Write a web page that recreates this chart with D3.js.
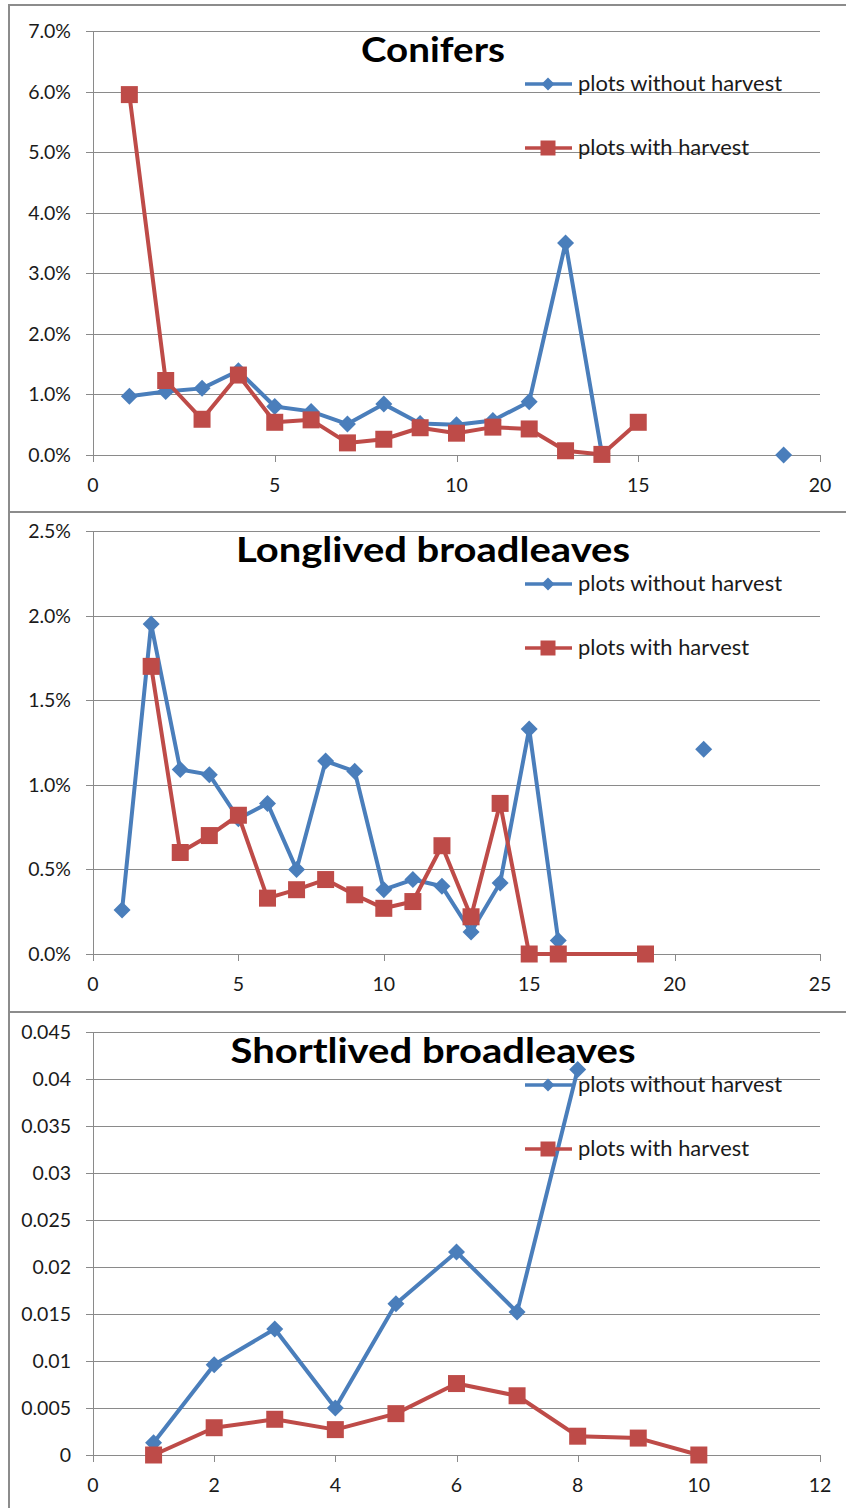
<!DOCTYPE html>
<html>
<head>
<meta charset="utf-8">
<title>Conifers / broadleaves</title>
<style>
  body {margin: 0; background: white;}
  svg {display: block;}
  text {font-family: Lato, "Open Sans", sans-serif;}
</style>
</head>
<body>
<div id="chart"></div>
<script src="https://d3js.org/d3.v7.min.js"></script>
<script>
// ---- data (null = gap in the line) ----
var titles = ["Conifers", "Longlived broadleaves", "Shortlived broadleaves"];
var seriesNames = ["plots without harvest", "plots with harvest"];

var conifersWithoutX = [1, 2, 3, 4, 5, 6, 7, 8, 9, 10, 11, 12, 13, 14, null, 19];
var conifersWithoutY = [0.0097, 0.0105, 0.0110, 0.0139, 0.0080, 0.0072, 0.0051, 0.0084, 0.0052, 0.0050, 0.0057, 0.0088, 0.0350, 0.0002, null, 0.0];
var conifersWithX = [1, 2, 3, 4, 5, 6, 7, 8, 9, 10, 11, 12, 13, 14, 15];
var conifersWithY = [0.0595, 0.0123, 0.0059, 0.0132, 0.0054, 0.0058, 0.0020, 0.0026, 0.0045, 0.0036, 0.0046, 0.0043, 0.0007, 0.0001, 0.0054];

var longWithoutX = [1, 2, 3, 4, 5, 6, 7, 8, 9, 10, 11, 12, 13, 14, 15, 16, null, 21];
var longWithoutY = [0.0026, 0.0195, 0.0109, 0.0106, 0.0080, 0.0089, 0.0050, 0.0114, 0.0108, 0.0038, 0.0044, 0.0040, 0.0013, 0.0042, 0.0133, 0.0008, null, 0.0121];
var longWithX = [2, 3, 4, 5, 6, 7, 8, 9, 10, 11, 12, 13, 14, 15, 16, 19];
var longWithY = [0.0170, 0.0060, 0.0070, 0.0082, 0.0033, 0.0038, 0.0044, 0.0035, 0.0027, 0.0031, 0.0064, 0.0022, 0.0089, 0.0, 0.0, 0.0];

var shortWithoutX = [1, 2, 3, 4, 5, 6, 7, 8];
var shortWithoutY = [0.0013, 0.0096, 0.0134, 0.0050, 0.0161, 0.0216, 0.0152, 0.0410];
var shortWithX = [1, 2, 3, 4, 5, 6, 7, 8, 9, 10];
var shortWithY = [0.0, 0.0029, 0.0038, 0.0027, 0.0044, 0.0076, 0.0063, 0.0020, 0.0018, 0.0];

var xMax = [20, 25, 12];
var xTicks = [[0, 5, 10, 15, 20], [0, 5, 10, 15, 20, 25], [0, 2, 4, 6, 8, 10, 12]];
var yTicks = [
  [0, 0.01, 0.02, 0.03, 0.04, 0.05, 0.06, 0.07],
  [0, 0.005, 0.01, 0.015, 0.02, 0.025],
  [0, 0.005, 0.01, 0.015, 0.02, 0.025, 0.03, 0.035, 0.04, 0.045]
];
var yTickLabels = [
  ["0.0%", "1.0%", "2.0%", "3.0%", "4.0%", "5.0%", "6.0%", "7.0%"],
  ["0.0%", "0.5%", "1.0%", "1.5%", "2.0%", "2.5%"],
  ["0", "0.005", "0.01", "0.015", "0.02", "0.025", "0.03", "0.035", "0.04", "0.045"]
];

var panels = [
  {without: [conifersWithoutX, conifersWithoutY], with: [conifersWithX, conifersWithY]},
  {without: [longWithoutX, longWithoutY], with: [longWithX, longWithY]},
  {without: [shortWithoutX, shortWithoutY], with: [shortWithX, shortWithY]}
];

// ---- layout ----
var W = 846, H = 1508;
var blue = "#4a7ebb", red = "#be4b48", grid = "#8a8a8a";
var panelTop = [5, 512, 1012];
var plotTop = [31, 531, 1032];
var plotBottom = [455, 954, 1455];
var left = 93, right = 820;
var titleWidth = [144, 394, 405];
var legendWidth = [204, 171];

var svg = d3.select("#chart").append("svg")
  .attr("width", W).attr("height", H);

function diamond(r) { return "M0," + (-r) + "L" + r + ",0L0," + r + "L" + (-r) + ",0Z"; }
function square(r) { return "M" + (-r) + "," + (-r) + "H" + r + "V" + r + "H" + (-r) + "Z"; }

panels.forEach(function(p, i) {
  var g = svg.append("g");
  var pb = i < 2 ? panelTop[i + 1] : H + 5;

  // frame
  g.append("rect")
    .attr("x", 9).attr("y", panelTop[i])
    .attr("width", W + 10).attr("height", pb - panelTop[i])
    .attr("fill", "white").attr("stroke", "#8c8c8c").attr("stroke-width", 2);

  var x = d3.scaleLinear().domain([0, xMax[i]]).range([left, right]);
  var y = d3.scaleLinear().domain([0, d3.max(yTicks[i])]).range([plotBottom[i], plotTop[i]]);

  // gridlines
  g.append("g").selectAll("line").data(yTicks[i]).join("line")
    .attr("x1", left - 7).attr("x2", right)
    .attr("y1", d => Math.round(y(d)) + 0.5).attr("y2", d => Math.round(y(d)) + 0.5)
    .attr("stroke", grid).attr("stroke-width", 1);

  // y axis
  g.append("line")
    .attr("x1", left + 0.5).attr("x2", left + 0.5)
    .attr("y1", plotTop[i]).attr("y2", plotBottom[i] + 7)
    .attr("stroke", grid);
  // x ticks
  g.append("g").selectAll("line").data(xTicks[i]).join("line")
    .attr("x1", d => Math.round(x(d)) + 0.5).attr("x2", d => Math.round(x(d)) + 0.5)
    .attr("y1", plotBottom[i]).attr("y2", plotBottom[i] + 7)
    .attr("stroke", grid);

  g.append("g").selectAll("text").data(yTicks[i]).join("text")
    .attr("x", 71).attr("y", d => y(d) + 7)
    .attr("text-anchor", "end").attr("font-size", 19.5).attr("fill", "#1a1a1a")
    .text((d, k) => yTickLabels[i][k]);

  g.append("g").selectAll("text").data(xTicks[i]).join("text")
    .attr("x", d => x(d)).attr("y", plotBottom[i] + 37)
    .attr("text-anchor", "middle").attr("font-size", 19.5).attr("fill", "#1a1a1a")
    .text(d => d);

  // title
  g.append("text")
    .attr("x", 433).attr("y", plotTop[i] + 31)
    .attr("text-anchor", "middle").attr("font-size", 34).attr("font-weight", "bold")
    .attr("fill", "black")
    .attr("textLength", titleWidth[i]).attr("lengthAdjust", "spacingAndGlyphs")
    .text(titles[i]);

  // series
  var line = d3.line()
    .defined(d => d[0] != null && d[1] != null)
    .x(d => x(d[0])).y(d => y(d[1]));

  function draw(s, color, width, marker) {
    var pts = s[0].map((v, k) => [v, s[1][k]]);
    g.append("path").datum(pts)
      .attr("d", line).attr("fill", "none")
      .attr("stroke", color).attr("stroke-width", width)
      .attr("stroke-linejoin", "round");
    g.append("g").selectAll("path").data(pts.filter(d => d[0] != null && d[1] != null)).join("path")
      .attr("transform", d => "translate(" + x(d[0]) + "," + y(d[1]) + ")")
      .attr("d", marker).attr("fill", color);
  }
  draw(p.without, blue, 4, diamond(8.5));
  draw(p.with, red, 4, square(8.5));

  // legend
  var ly = [plotTop[i] + 53, plotTop[i] + 117];
  var lg = g.append("g");
  [[blue, diamond(6.5)], [red, square(7.5)]].forEach(function(l, k) {
    lg.append("line")
      .attr("x1", 525).attr("x2", 572).attr("y1", ly[k]).attr("y2", ly[k])
      .attr("stroke", l[0]).attr("stroke-width", 3.5);
    lg.append("path")
      .attr("transform", "translate(548," + ly[k] + ")")
      .attr("d", l[1]).attr("fill", l[0]);
    lg.append("text")
      .attr("x", 578).attr("y", ly[k] + 7)
      .attr("font-size", 21).attr("fill", "#1a1a1a")
      .attr("textLength", legendWidth[k]).attr("lengthAdjust", "spacingAndGlyphs")
      .text(seriesNames[k]);
  });
});
</script>
</body>
</html>
